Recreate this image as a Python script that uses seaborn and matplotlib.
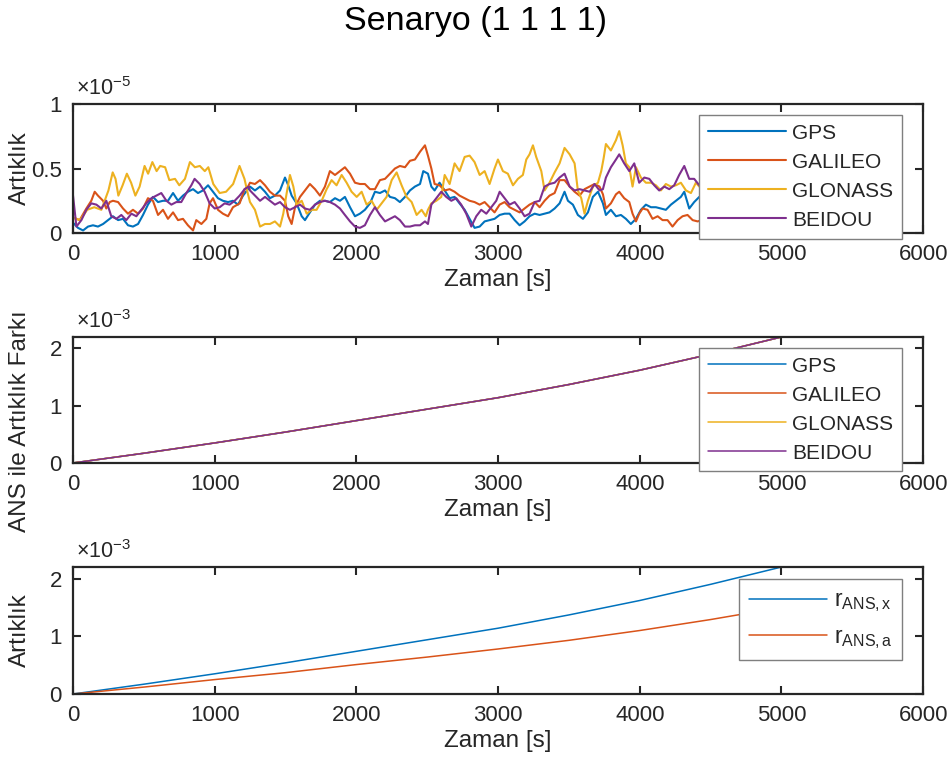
import matplotlib
matplotlib.use('Agg')
import matplotlib.pyplot as plt
import seaborn as sns
import numpy as np

# ust panel: artiklik degerleri (x1e-5)
gps_t = [0, 35, 71, 106, 141, 176, 212, 247, 282, 318, 353, 388, 423, 459, 494, 529, 564, 600, 635, 670,
         706, 741, 776, 811, 847, 882, 917, 953, 988, 1023, 1058, 1094, 1129, 1164, 1200, 1235,
         1249, 1284, 1320, 1355, 1390, 1425, 1461, 1496, 1519, 1543, 1578, 1614, 1637, 1672, 1708, 1743,
         1778, 1813, 1849, 1884, 1919, 1955, 1990, 2025, 2060, 2096, 2131, 2166, 2202, 2237, 2272, 2307,
         2343, 2378, 2413, 2449, 2472,
         2505, 2529, 2552, 2587, 2623, 2658, 2693, 2728, 2764, 2799, 2834, 2870, 2905, 2940, 2975, 3011,
         3046, 3081, 3117, 3152, 3187, 3222, 3258, 3293, 3328, 3363, 3399, 3434, 3469, 3493, 3528, 3563,
         3599, 3634, 3669, 3705, 3740,
         3761, 3796, 3832, 3867, 3902, 3937, 3973, 4008, 4043, 4079, 4114, 4149, 4184, 4220, 4255, 4290,
         4314, 4349, 4384, 4420, 4500, 4600, 4700, 4800, 4900, 5000]
gps_v = [0.08, 0.04, 0.02, 0.05, 0.06, 0.05, 0.07, 0.10, 0.13, 0.10, 0.11, 0.06, 0.05, 0.07, 0.14, 0.22, 0.28, 0.24, 0.25, 0.25,
         0.31, 0.25, 0.29, 0.32, 0.34, 0.31, 0.33, 0.37, 0.32, 0.27, 0.25, 0.24, 0.25, 0.22, 0.29, 0.34,
         0.36, 0.33, 0.36, 0.32, 0.27, 0.29, 0.33, 0.43, 0.37, 0.29, 0.23, 0.13, 0.10, 0.16, 0.22, 0.25,
         0.25, 0.24, 0.27, 0.25, 0.28, 0.20, 0.13, 0.15, 0.18, 0.23, 0.32, 0.31, 0.33, 0.28, 0.27, 0.24,
         0.28, 0.33, 0.36, 0.38, 0.48,
         0.46, 0.36, 0.33, 0.39, 0.33, 0.27, 0.28, 0.23, 0.18, 0.11, 0.04, 0.05, 0.09, 0.10, 0.11, 0.14,
         0.15, 0.15, 0.10, 0.06, 0.09, 0.13, 0.15, 0.14, 0.15, 0.16, 0.19, 0.23, 0.32, 0.25, 0.22, 0.14,
         0.11, 0.16, 0.28, 0.32, 0.23,
         0.14, 0.18, 0.13, 0.14, 0.11, 0.07, 0.11, 0.18, 0.22, 0.20, 0.20, 0.19, 0.18, 0.22, 0.25, 0.28,
         0.32, 0.19, 0.24, 0.28, 0.30, 0.27, 0.32, 0.30, 0.35, 0.33]

galileo_t = [0, 47, 94, 129, 153, 176, 212, 235, 259, 282, 318, 353, 388, 423, 459, 494, 529, 564, 600, 635,
             670, 706, 741, 776, 811, 847, 870, 906, 941, 964, 988, 1023, 1058, 1094, 1129, 1176, 1211, 1235,
             1249, 1284, 1320, 1355, 1390, 1425, 1461, 1496, 1519, 1543, 1567, 1602, 1637, 1672, 1708, 1743,
             1778, 1813, 1849, 1884, 1919, 1955, 1990, 2025, 2060, 2096, 2131, 2166, 2202, 2237, 2272, 2307,
             2343, 2378, 2413, 2449, 2484,
             2505, 2529, 2552, 2587, 2623, 2658, 2693, 2728, 2764, 2799, 2834, 2870, 2905, 2940, 2975, 3011,
             3046, 3081, 3117, 3152, 3187, 3222, 3258, 3293, 3328, 3363, 3399, 3434, 3469, 3505, 3540, 3575,
             3610, 3646, 3681, 3716, 3740,
             3761, 3796, 3832, 3855, 3890, 3926, 3949, 3973, 3996, 4020, 4055, 4090, 4126, 4161, 4196, 4231,
             4267, 4302, 4337, 4373, 4408, 4500, 4600, 4700, 4800, 4900, 5000]
galileo_v = [0.12, 0.10, 0.19, 0.25, 0.32, 0.29, 0.25, 0.19, 0.24, 0.25, 0.24, 0.19, 0.15, 0.18, 0.15, 0.19, 0.27, 0.25, 0.14, 0.18,
             0.11, 0.16, 0.10, 0.11, 0.06, 0.02, 0.10, 0.07, 0.11, 0.23, 0.27, 0.18, 0.15, 0.13, 0.20, 0.23, 0.34, 0.36,
             0.39, 0.38, 0.41, 0.37, 0.32, 0.29, 0.29, 0.25, 0.13, 0.07, 0.20, 0.28, 0.33, 0.38, 0.34, 0.29,
             0.36, 0.48, 0.45, 0.48, 0.51, 0.46, 0.39, 0.38, 0.38, 0.34, 0.34, 0.41, 0.42, 0.46, 0.50, 0.52,
             0.51, 0.56, 0.57, 0.63, 0.68,
             0.60, 0.50, 0.38, 0.37, 0.33, 0.34, 0.32, 0.29, 0.27, 0.25, 0.24, 0.22, 0.24, 0.20, 0.16, 0.22,
             0.24, 0.20, 0.18, 0.16, 0.19, 0.22, 0.24, 0.20, 0.25, 0.29, 0.31, 0.41, 0.41, 0.36, 0.32, 0.29,
             0.34, 0.36, 0.38, 0.36, 0.30,
             0.19, 0.23, 0.30, 0.32, 0.27, 0.24, 0.15, 0.09, 0.15, 0.19, 0.18, 0.11, 0.13, 0.10, 0.10, 0.05,
             0.10, 0.13, 0.14, 0.10, 0.09, 0.12, 0.08, 0.10, 0.07, 0.09, 0.08]

glonass_t = [0, 50, 100, 150, 200, 250, 280, 300, 320, 350, 380, 410, 440, 470, 505, 530, 560, 590, 615, 650,
             680, 720, 750, 790, 825, 860, 895, 930, 955, 990, 1035, 1080, 1130, 1175, 1210, 1235,
             1249, 1284, 1320, 1355, 1390, 1425, 1461, 1484, 1508, 1531, 1555, 1578, 1614, 1649, 1684, 1719,
             1755, 1790, 1825, 1860, 1896, 1931, 1966, 2002, 2037, 2072, 2107, 2143, 2178, 2213, 2249, 2284,
             2319, 2354, 2390, 2425, 2460, 2490,
             2505, 2529, 2564, 2599, 2623, 2658, 2693, 2728, 2764, 2799, 2834, 2870, 2905, 2940, 2975, 2999,
             3034, 3069, 3105, 3140, 3175, 3199, 3222, 3246, 3269, 3305, 3328, 3363, 3399, 3434, 3469, 3505,
             3540, 3563, 3587, 3610, 3634, 3669, 3705, 3728, 3745,
             3761, 3796, 3832, 3855, 3879, 3902, 3926, 3949, 3973, 4008, 4043, 4079, 4114, 4149, 4184, 4220,
             4255, 4290, 4326, 4361, 4396, 4420, 4500, 4600, 4700, 4800, 4900, 5000]
glonass_v = [0.12, 0.10, 0.18, 0.20, 0.18, 0.33, 0.47, 0.42, 0.29, 0.37, 0.46, 0.39, 0.29, 0.36, 0.52, 0.46, 0.55, 0.48, 0.52, 0.51,
             0.41, 0.42, 0.37, 0.42, 0.55, 0.51, 0.52, 0.48, 0.51, 0.38, 0.31, 0.32, 0.38, 0.52, 0.42, 0.30,
             0.24, 0.18, 0.05, 0.07, 0.07, 0.09, 0.05, 0.15, 0.31, 0.45, 0.36, 0.22, 0.25, 0.15, 0.18, 0.18,
             0.25, 0.34, 0.41, 0.37, 0.45, 0.39, 0.32, 0.28, 0.32, 0.22, 0.25, 0.18, 0.23, 0.28, 0.41, 0.47,
             0.37, 0.28, 0.24, 0.14, 0.18, 0.13,
             0.18, 0.23, 0.25, 0.28, 0.45, 0.38, 0.54, 0.48, 0.59, 0.60, 0.55, 0.45, 0.48, 0.38, 0.50, 0.57,
             0.48, 0.46, 0.37, 0.42, 0.45, 0.57, 0.61, 0.68, 0.59, 0.48, 0.33, 0.39, 0.47, 0.54, 0.66, 0.61,
             0.54, 0.33, 0.27, 0.15, 0.25, 0.36, 0.39, 0.48, 0.58,
             0.69, 0.64, 0.72, 0.79, 0.68, 0.54, 0.51, 0.36, 0.51, 0.43, 0.39, 0.39, 0.37, 0.33, 0.38, 0.36,
             0.37, 0.39, 0.33, 0.31, 0.39, 0.36, 0.40, 0.35, 0.38, 0.42, 0.37, 0.40]

beidou_t = [0, 24, 59, 94, 129, 165, 200, 235, 270, 306, 341, 376, 412, 447, 482, 517, 553, 588, 623, 659,
            694, 729, 764, 800, 835, 858, 894, 929, 964, 1000, 1035, 1070, 1105, 1141, 1176, 1211, 1240,
            1249, 1284, 1320, 1355, 1390, 1425, 1461, 1496, 1531, 1567, 1602, 1637, 1672, 1708, 1743, 1778,
            1813, 1849, 1884, 1919, 1955, 1990, 2025, 2060, 2096, 2131, 2166, 2202, 2237, 2272, 2307, 2343,
            2378, 2413, 2449, 2484,
            2505, 2529, 2564, 2599, 2634, 2670, 2705, 2740, 2775, 2811, 2846, 2881, 2917, 2952, 2987, 3011,
            3046, 3081, 3117, 3152, 3187, 3222, 3258, 3293, 3328, 3363, 3399, 3434, 3469, 3505, 3540, 3575,
            3610, 3646, 3681, 3716, 3740,
            3761, 3796, 3832, 3855, 3890, 3926, 3961, 3996, 4032, 4067, 4102, 4137, 4173, 4208, 4243, 4278,
            4314, 4349, 4384, 4420, 4500, 4600, 4700, 4800, 4900, 5000]
beidou_v = [0.29, 0.05, 0.10, 0.18, 0.23, 0.22, 0.19, 0.25, 0.13, 0.11, 0.14, 0.10, 0.15, 0.13, 0.18, 0.23, 0.27, 0.29, 0.31, 0.25,
            0.22, 0.24, 0.24, 0.31, 0.37, 0.42, 0.38, 0.32, 0.23, 0.19, 0.20, 0.23, 0.22, 0.25, 0.29, 0.34, 0.36,
            0.33, 0.29, 0.25, 0.28, 0.25, 0.22, 0.24, 0.20, 0.18, 0.20, 0.22, 0.19, 0.18, 0.22, 0.24, 0.25,
            0.24, 0.22, 0.19, 0.14, 0.09, 0.05, 0.04, 0.06, 0.14, 0.20, 0.14, 0.09, 0.11, 0.13, 0.10, 0.05,
            0.05, 0.06, 0.06, 0.09,
            0.07, 0.22, 0.27, 0.32, 0.28, 0.25, 0.27, 0.22, 0.15, 0.05, 0.13, 0.18, 0.15, 0.20, 0.25, 0.32,
            0.27, 0.22, 0.24, 0.19, 0.13, 0.15, 0.24, 0.25, 0.36, 0.38, 0.39, 0.43, 0.46, 0.36, 0.33, 0.34,
            0.33, 0.32, 0.38, 0.33, 0.34,
            0.43, 0.51, 0.57, 0.61, 0.54, 0.48, 0.54, 0.39, 0.43, 0.42, 0.37, 0.33, 0.36, 0.34, 0.37, 0.45,
            0.52, 0.42, 0.42, 0.37, 0.40, 0.45, 0.38, 0.42, 0.36, 0.39]

# orta ve alt panel (x1e-3)
zaman = [0, 500, 1000, 1500, 2000, 2500, 3000, 3500, 4000, 4500, 5000]
fark = [0, 0.17, 0.35, 0.54, 0.74, 0.94, 1.14, 1.37, 1.62, 1.90, 2.20]
r_ans_x = [0, 0.17, 0.35, 0.54, 0.74, 0.94, 1.14, 1.37, 1.62, 1.90, 2.20]
r_ans_a = [0, 0.12, 0.25, 0.37, 0.51, 0.64, 0.78, 0.93, 1.10, 1.29, 1.50]

isimler = ['GPS', 'GALILEO', 'GLONASS', 'BEIDOU']
renkler = ['#0072BD', '#D95319', '#EDB120', '#7E2F8E']

sns.set_style('ticks')
plt.rcParams['font.family'] = ['Liberation Sans', 'DejaVu Sans']
plt.rcParams['mathtext.fontset'] = 'custom'
plt.rcParams['mathtext.rm'] = 'Liberation Sans'
plt.rcParams['mathtext.it'] = 'Liberation Sans'
plt.rcParams['axes.unicode_minus'] = False

koyu = '#262626'
fig = plt.figure(figsize=(9.52, 7.65), dpi=100)
ax1 = fig.add_axes([0.0767, 0.6954, 0.893, 0.1686])
ax2 = fig.add_axes([0.0767, 0.3948, 0.893, 0.1647])
ax3 = fig.add_axes([0.0767, 0.0928, 0.893, 0.1660])

ust = [(gps_t, gps_v), (galileo_t, galileo_v), (glonass_t, glonass_v), (beidou_t, beidou_v)]
for (t, v), isim, renk in zip(ust, isimler, renkler):
    sns.lineplot(x=t, y=np.array(v) * 1e-5, ax=ax1, color=renk, label=isim,
                 linewidth=1.5, estimator=None, sort=False)

for isim, renk in zip(isimler, renkler):
    sns.lineplot(x=zaman, y=np.array(fark) * 1e-3, ax=ax2, color=renk, label=isim,
                 linewidth=1.1, estimator=None, sort=False)

sns.lineplot(x=zaman, y=np.array(r_ans_x) * 1e-3, ax=ax3, color=renkler[0],
             label=r'$\mathregular{r_{ANS,x}}$', linewidth=1.1, estimator=None, sort=False)
sns.lineplot(x=zaman, y=np.array(r_ans_a) * 1e-3, ax=ax3, color=renkler[1],
             label=r'$\mathregular{r_{ANS,a}}$', linewidth=1.1, estimator=None, sort=False)

ayar = [
    (ax1, 1e-5, [0, 0.5e-5, 1e-5], ['0', '0.5', '1'], r'$\times\mathregular{10^{-5}}$', 'Artıklık', 0.5),
    (ax2, 2.2e-3, [0, 1e-3, 2e-3], ['0', '1', '2'], r'$\times\mathregular{10^{-3}}$', 'ANS ile Artıklık Farkı', 0.33),
    (ax3, 2.2e-3, [0, 1e-3, 2e-3], ['0', '1', '2'], r'$\times\mathregular{10^{-3}}$', 'Artıklık', 0.5),
]
for ax, ymax, yt, ytl, carpan, ylab, ly in ayar:
    ax.set_xlim(0, 6000)
    ax.set_ylim(0, ymax)
    ax.set_xticks([0, 1000, 2000, 3000, 4000, 5000, 6000])
    ax.set_yticks(yt)
    ax.set_yticklabels(ytl)
    ax.tick_params(direction='in', top=True, right=True, length=6, width=1.5,
                   labelsize=16, colors=koyu)
    ax.tick_params(axis='x', pad=8)
    ax.tick_params(axis='y', pad=8)
    for sp in ax.spines.values():
        sp.set_linewidth(1.6)
        sp.set_color(koyu)
    ax.set_xlabel('Zaman [s]', fontsize=17.5, color=koyu, labelpad=3)
    ax.set_ylabel(ylab, fontsize=17.5, color=koyu, labelpad=2)
    ax.yaxis.set_label_coords(-0.05, ly)
    ax.text(0.004, 1.03, carpan, transform=ax.transAxes, fontsize=15.5, color=koyu,
            ha='left', va='bottom')

leg_ayar = [(ax1, (0.975, 0.915), 15, 0.48), (ax2, (0.975, 0.913), 15, 0.48),
            (ax3, (0.975, 0.906), 16.5, 0.45)]
for ax, bb, fs, ls in leg_ayar:
    leg = ax.legend(loc='upper right', bbox_to_anchor=bb, borderaxespad=0, fontsize=fs,
                    handlelength=78 / (fs * 100 / 72), handletextpad=0.3, labelspacing=ls,
                    borderpad=0.42, frameon=True, fancybox=False, framealpha=1,
                    edgecolor='#7f7f7f')
    leg.get_frame().set_linewidth(1.0)
    leg.set_zorder(10)

fig.suptitle('Senaryo (1 1 1 1)', fontsize=24.5, y=0.992, color='black')
fig.savefig('out.png', dpi=100)
